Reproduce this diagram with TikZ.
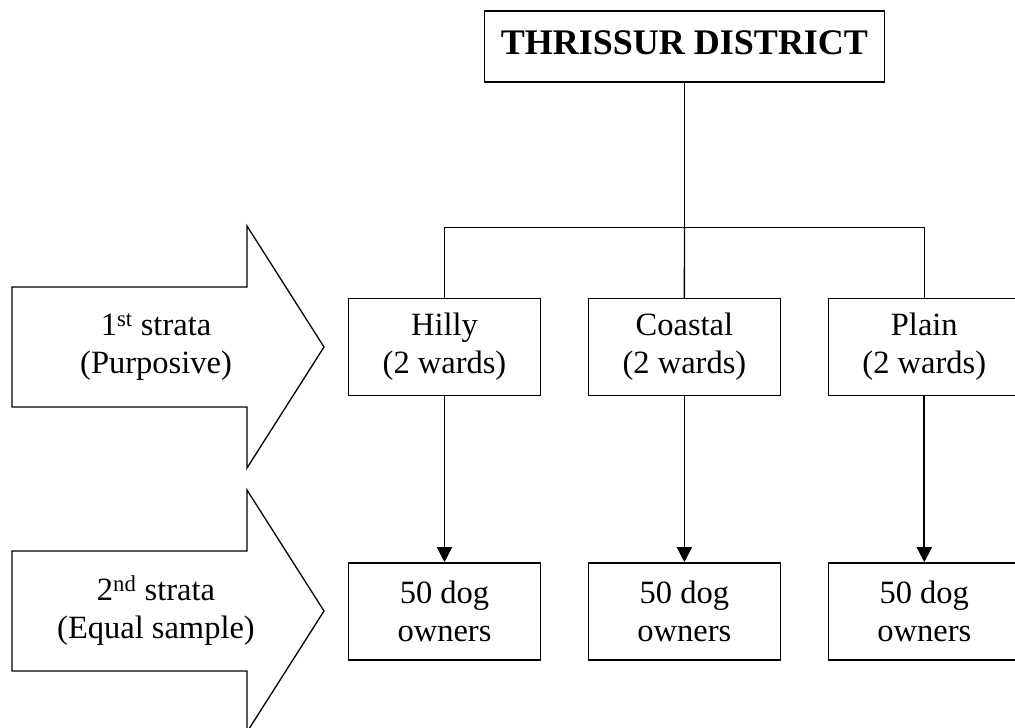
\documentclass[tikz,border=0pt]{standalone}
\usepackage{fontspec}
\setmainfont{Liberation Serif}
\usetikzlibrary{positioning,arrows.meta}

\begin{document}
\begin{tikzpicture}[
  x=1pt, y=-1pt, node distance=166pt and 46.5pt,
  font=\fontsize{32.5}{38}\selectfont,
  box/.style={draw=black, line width=1.4pt, align=center, inner sep=0pt, minimum width=192pt, minimum height=97pt},
  head/.style={box, font=\bfseries\fontsize{36}{40}\selectfont, minimum width=400pt, minimum height=71pt, text depth=7pt},
  blk/.style={draw=black, line width=1.3pt, line join=miter},
  ln/.style={black, line width=1.4pt},
  arr/.style={-{Triangle[length=15pt,width=15pt]}, black, line width=1.8pt}]
  \useasboundingbox (0,0) rectangle (1015,728);
  \node[head] (dist) at (684.5,46.5) {THRISSUR DISTRICT};
  \node[box] (hilly) at (444.5,347) {Hilly\\(2 wards)};
  \node[box, right=of hilly] (coast) {Coastal\\(2 wards)};
  \node[box, right=of coast] (plain) {Plain\\(2 wards)};
  \node[box, below=of hilly] (ohilly) {50 dog\\owners};
  \node[box, below=of coast] (ocoast) {50 dog\\owners};
  \node[box, below=of plain] (oplain) {50 dog\\owners};
  % tree from the district box
  \coordinate (junc) at (684.5,227.3);
  \draw[ln] (dist) -- (junc);
  \draw[ln] (junc) -| (hilly.north);
  \draw[ln] (junc) -| (plain.north);
  \draw[ln] (junc) -- (coast.north);
  \foreach \a/\b in {hilly/ohilly, coast/ocoast, plain/oplain} \draw[arr] (\a) -- (\b);
  % strata arrows on the left
  \foreach \cy/\nm/\txt in {347/strA/{1\textsuperscript{st} strata\\(Purposive)}, 611/strB/{2\textsuperscript{nd} strata\\(Equal sample)}} {
    \draw[blk] (12,\cy-60) -- (247,\cy-60) -- (247,\cy-121) -- (324,\cy) -- (247,\cy+121) -- (247,\cy+60) -- (12,\cy+60) -- cycle;
    \node[align=center] (\nm) at (156,\cy) {\txt};
  }
\end{tikzpicture}
\end{document}
